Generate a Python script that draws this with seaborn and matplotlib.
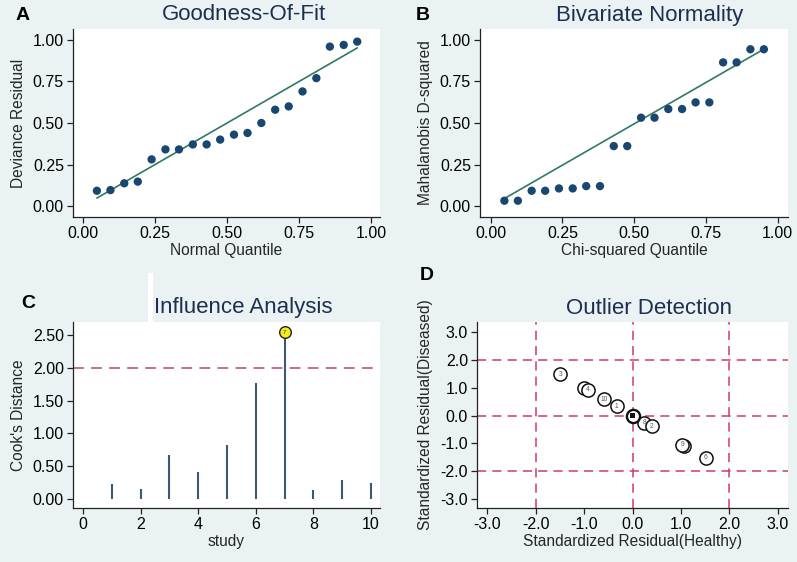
import matplotlib
matplotlib.use("Agg")
import matplotlib.pyplot as plt
import seaborn as sns
import pandas as pd
from matplotlib.patches import Rectangle

# ---------------- data ----------------
# A: Goodness-of-fit
gof_quantile = [0.048, 0.095, 0.143, 0.190, 0.238, 0.286, 0.333, 0.381, 0.429, 0.476,
                0.524, 0.571, 0.619, 0.667, 0.714, 0.762, 0.810, 0.857, 0.905, 0.952]
gof_residual = [0.092, 0.096, 0.137, 0.147, 0.281, 0.341, 0.341, 0.371, 0.371, 0.400,
                0.430, 0.440, 0.500, 0.580, 0.600, 0.690, 0.770, 0.960, 0.970, 0.990]
gof_line_x = [0.048, 0.952]
gof_line_y = [0.048, 0.952]

# B: Bivariate normality
bn_quantile = [0.048, 0.095, 0.143, 0.190, 0.238, 0.286, 0.333, 0.381, 0.429, 0.476,
               0.524, 0.571, 0.619, 0.667, 0.714, 0.762, 0.810, 0.857, 0.905, 0.952]
bn_dsq = [0.032, 0.032, 0.092, 0.092, 0.106, 0.106, 0.120, 0.120, 0.361, 0.361,
          0.532, 0.532, 0.584, 0.584, 0.624, 0.624, 0.865, 0.865, 0.944, 0.944]
bn_line_x = [0.048, 0.952]
bn_line_y = [0.045, 0.945]

# C: Influence analysis
study = [1, 2, 3, 4, 5, 6, 7, 8, 9, 10]
cooks_d = [0.234, 0.148, 0.667, 0.418, 0.830, 1.770, 2.540, 0.130, 0.290, 0.244]
cooks_threshold = 2.0
influential_study = 7

# D: Outlier detection
od_label = ["3", "7", "4", "10", "1", "8", "2", "5", "9", "6"]
od_healthy = [-1.49, -1.00, -0.92, -0.59, -0.33, 0.24, 0.40, 1.07, 1.03, 1.51]
od_diseased = [1.48, 0.98, 0.92, 0.59, 0.33, -0.25, -0.38, -1.08, -1.04, -1.52]
od_center_x = [0.0]
od_center_y = [0.0]
od_ref_lines = [-2.0, 0.0, 2.0]

# ---------------- style ----------------
BG = "#eaf2f3"
NAVY = "#1a476f"
LINE_GREEN = "#2f7a63"
TITLE_C = "#1c2f4e"
SPIKE_C = "#3b5877"
DASH_C = "#c46283"
DASH_D = "#d13a6a"
LAB_FS = 11.2

sns.set_theme(style="white")
plt.rcParams["font.family"] = ["Liberation Sans", "DejaVu Sans"]

W, H = 797, 562
fig = plt.figure(figsize=(W / 100, H / 100), dpi=100, facecolor=BG)


def make_ax(l, t, r, b):
    ax = fig.add_axes([l / W, 1 - b / H, (r - l) / W, (b - t) / H])
    ax.set_facecolor("white")
    for s in ["top", "right"]:
        ax.spines[s].set_visible(False)
    for s in ["left", "bottom"]:
        ax.spines[s].set_color("#222222")
        ax.spines[s].set_linewidth(0.9)
    ax.tick_params(axis="both", direction="out", length=4.5, width=0.9,
                   color="#222222", labelsize=11.5, labelcolor="black",
                   bottom=True, left=True, pad=2)
    ax.grid(False)
    return ax


# ---- A ----
axA = make_ax(73, 29, 380, 217)
dfA = pd.DataFrame({"q": gof_quantile, "r": gof_residual})
sns.lineplot(x=gof_line_x, y=gof_line_y, ax=axA, color=LINE_GREEN, linewidth=1.2)
sns.scatterplot(data=dfA, x="q", y="r", ax=axA, color=NAVY, s=36, edgecolor="none", zorder=3)
axA.set_xlim(-0.035, 1.031)
axA.set_ylim(-0.066, 1.066)
axA.set_xticks([0, 0.25, 0.5, 0.75, 1.0])
axA.set_xticklabels(["0.00", "0.25", "0.50", "0.75", "1.00"])
axA.set_yticks([0, 0.25, 0.5, 0.75, 1.0])
axA.set_yticklabels(["0.00", "0.25", "0.50", "0.75", "1.00"])
axA.set_xlabel("Normal Quantile", fontsize=LAB_FS, labelpad=1.5)
axA.set_ylabel("Deviance Residual", fontsize=LAB_FS, labelpad=5)

# ---- B ----
axB = make_ax(480, 29, 788, 217)
dfB = pd.DataFrame({"q": bn_quantile, "d": bn_dsq})
sns.lineplot(x=bn_line_x, y=bn_line_y, ax=axB, color=LINE_GREEN, linewidth=1.2)
sns.scatterplot(data=dfB, x="q", y="d", ax=axB, color=NAVY, s=36, edgecolor="none", zorder=3)
axB.set_xlim(-0.037, 1.036)
axB.set_ylim(-0.066, 1.066)
axB.set_xticks([0, 0.25, 0.5, 0.75, 1.0])
axB.set_xticklabels(["0.00", "0.25", "0.50", "0.75", "1.00"])
axB.set_yticks([0, 0.25, 0.5, 0.75, 1.0])
axB.set_yticklabels(["0.00", "0.25", "0.50", "0.75", "1.00"])
axB.set_xlabel("Chi-squared Quantile", fontsize=LAB_FS, labelpad=1.5)
axB.set_ylabel("Mahalanobis D-squared", fontsize=LAB_FS, labelpad=5)

# ---- C ----
axC = make_ax(73, 322, 380, 508)
axC.vlines(study, 0, cooks_d, color=SPIKE_C, linewidth=1.5, zorder=2)
axC.axhline(cooks_threshold, color=DASH_C, linestyle=(0, (6, 4)), linewidth=1.3, zorder=1)
ci = study.index(influential_study)
sns.scatterplot(x=[study[ci]], y=[cooks_d[ci]], ax=axC, color="#f5ee1a", s=70,
                edgecolor="#222222", linewidth=1.0, zorder=4)
axC.text(study[ci], cooks_d[ci], str(influential_study), fontsize=4.5, ha="center",
         va="center", color="#333333", zorder=5)
axC.set_xlim(-0.35, 10.31)
axC.set_ylim(-0.137, 2.70)
axC.set_xticks([0, 2, 4, 6, 8, 10])
axC.set_yticks([0, 0.5, 1.0, 1.5, 2.0, 2.5])
axC.set_yticklabels(["0.00", "0.50", "1.00", "1.50", "2.00", "2.50"])
axC.set_xlabel("study", fontsize=LAB_FS, labelpad=1.5)
axC.set_ylabel("Cook's Distance", fontsize=LAB_FS, labelpad=5)

# ---- D ----
axD = make_ax(477, 322, 788, 508)
for v in od_ref_lines:
    axD.axhline(v, color=DASH_D, linestyle=(0, (6, 4)), linewidth=1.1, zorder=1)
    axD.axvline(v, color=DASH_D, linestyle=(0, (6, 4)), linewidth=1.1, zorder=1)
# each labelled circle drawn in turn so a later circle covers the one beneath it
for i, (x, y, t) in enumerate(zip(od_healthy, od_diseased, od_label)):
    z = 3 + 2 * i
    sns.scatterplot(x=[x], y=[y], ax=axD, color="white", s=90,
                    edgecolor="#111111", linewidth=1.1, zorder=z)
    axD.text(x, y, t, fontsize=4.8, ha="center", va="center", color="#555555", zorder=z + 1)
zc = 3 + 2 * len(od_label)
sns.scatterplot(x=od_center_x, y=od_center_y, ax=axD, color="white", s=90,
                edgecolor="#111111", linewidth=1.7, zorder=zc)
sns.scatterplot(x=od_center_x, y=od_center_y, ax=axD, color="#111111", s=12,
                marker="s", edgecolor="none", zorder=zc + 1)
axD.set_xlim(-3.21, 3.21)
axD.set_ylim(-3.32, 3.36)
ticksD = [-3, -2, -1, 0, 1, 2, 3]
axD.set_xticks(ticksD)
axD.set_xticklabels([f"{t:.1f}" for t in ticksD])
axD.set_yticks(ticksD)
axD.set_yticklabels([f"{t:.1f}" for t in ticksD])
axD.set_xlabel("Standardized Residual(Healthy)", fontsize=LAB_FS, labelpad=1.5)
axD.set_ylabel("Standardized Residual(Diseased)", fontsize=LAB_FS, labelpad=5)

# ---- titles & panel letters ----
def ftext(x, y, s, **kw):
    fig.text(x / W, 1 - y / H, s, ha="center", va="center", **kw)

ftext(244, 15, "Goodness-Of-Fit", fontsize=16, color=TITLE_C)
ftext(650, 15, "Bivariate Normality", fontsize=16, color=TITLE_C)
ftext(243, 308, "Influence Analysis", fontsize=16, color=TITLE_C)
ftext(649, 309, "Outlier Detection", fontsize=16, color=TITLE_C)

ftext(23, 15, "A", fontsize=14, fontweight="bold", color="black")
ftext(423, 15, "B", fontsize=14, fontweight="bold", color="black")
ftext(28, 303, "C", fontsize=14, fontweight="bold", color="black")
ftext(427, 276, "D", fontsize=14, fontweight="bold", color="black")

# white artefact strip above panel C
fig.patches.append(Rectangle((148 / W, 1 - 322 / H), 5 / W, 49 / H,
                             transform=fig.transFigure, facecolor="white",
                             edgecolor="none", zorder=0))

fig.savefig("out.png", dpi=100, facecolor=BG)
